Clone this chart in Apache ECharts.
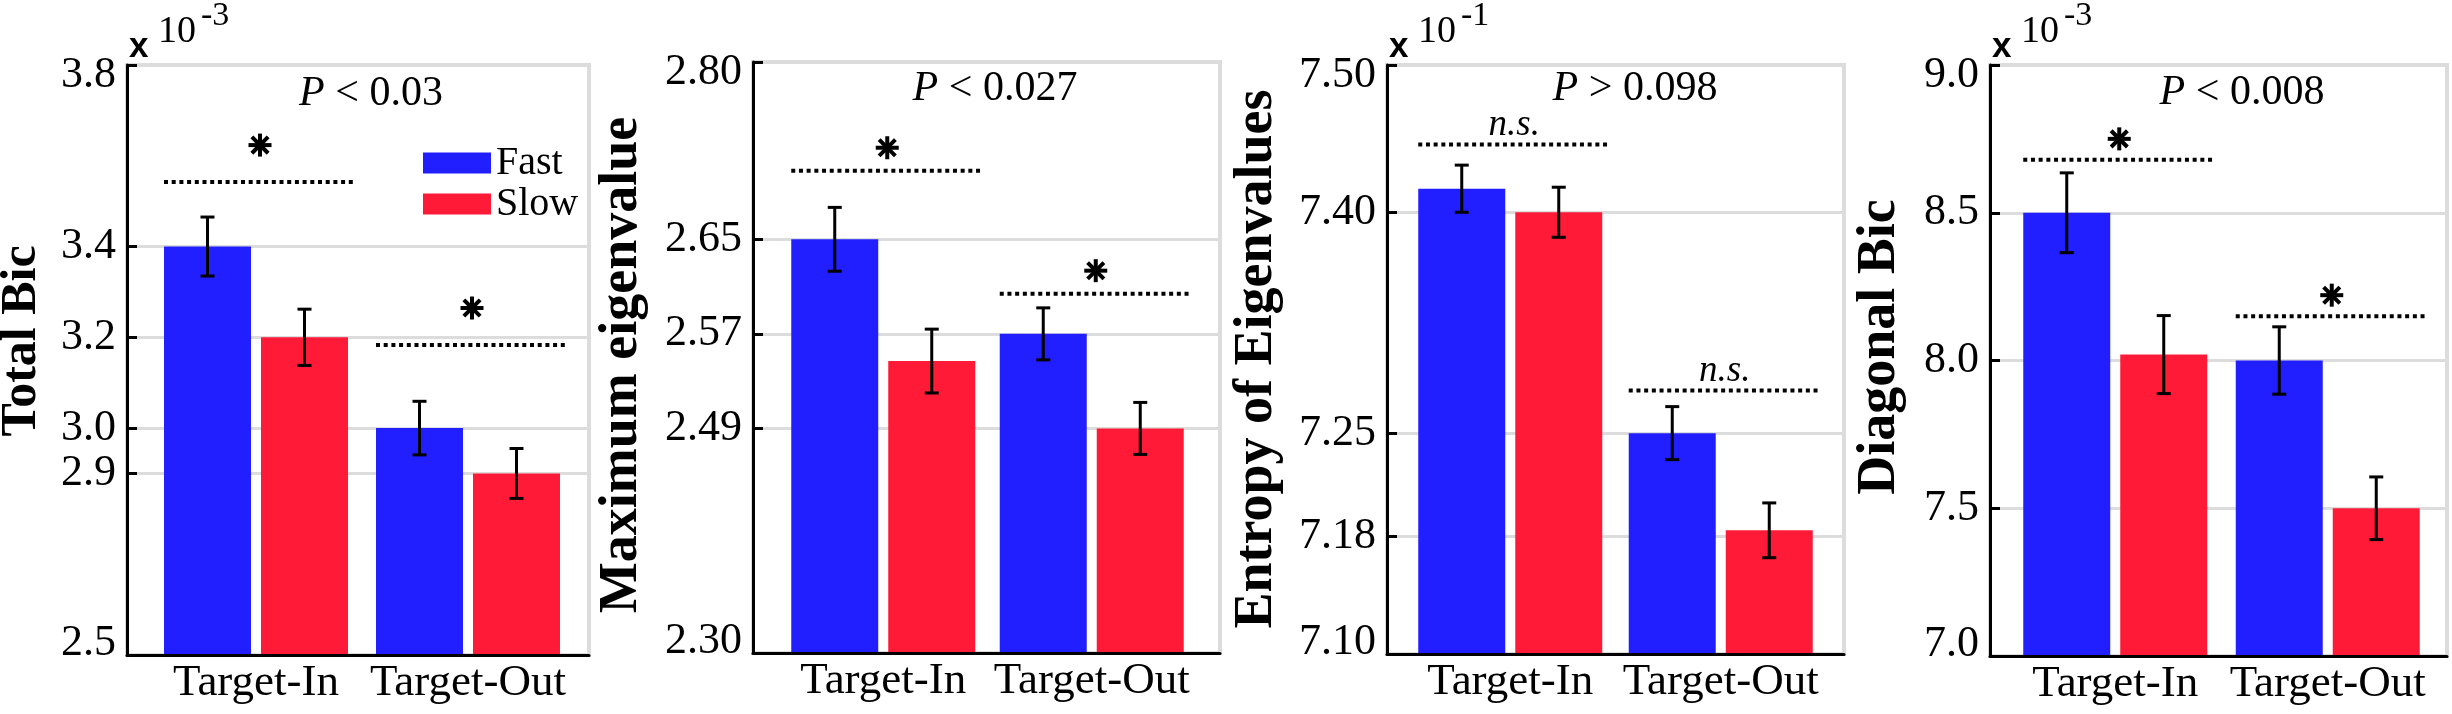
<!DOCTYPE html>
<html>
<head>
<meta charset="utf-8">
<script src="https://cdn.jsdelivr.net/npm/echarts@6/dist/echarts.min.js"></script>
<style>
  html, body { margin: 0; padding: 0; background: #fff; }
  #chart { width: 2452px; height: 714px; }
</style>
</head>
<body>
<div id="chart"></div>
<script>
const categories = ['Target-In', 'Target-Out'];
const seriesNames = ['Fast', 'Slow'];

// Total Bic (x 10^-3)
const totalBicFast = [3.4, 3.0];
const totalBicSlow = [3.2, 2.9];
const totalBicFastErr = [0.065, 0.059];
const totalBicSlowErr = [0.062, 0.055];
const totalBicTicks = [2.5, 2.9, 3.0, 3.2, 3.4, 3.8];
const totalBicSig = [3.542, 3.183];

// Maximum eigenvalue
const maxEigFast = [2.65, 2.57];
const maxEigSlow = [2.547, 2.49];
const maxEigFastErr = [0.027, 0.022];
const maxEigSlowErr = [0.027, 0.022];
const maxEigTicks = [2.30, 2.49, 2.57, 2.65, 2.80];
const maxEigSig = [2.708, 2.604];

// Entropy of Eigenvalues (x 10^-1)
const entropyFast = [7.416, 7.25];
const entropySlow = [7.40, 7.184];
const entropyFastErr = [0.016, 0.018];
const entropySlowErr = [0.017, 0.0186];
const entropyTicks = [7.10, 7.18, 7.25, 7.40, 7.50];
const entropySig = [7.446, 7.279];

// Diagonal Bic (x 10^-3)
const diagBicFast = [8.5, 8.0];
const diagBicSlow = [8.02, 7.5];
const diagBicFastErr = [0.135, 0.114];
const diagBicSlowErr = [0.132, 0.106];
const diagBicTicks = [7.0, 7.5, 8.0, 8.5, 9.0];
const diagBicSig = [8.679, 8.15];

const pLabels = ['< 0.03', '< 0.027', '> 0.098', '< 0.008'];
const sigMarks = ['*', '*', 'n.s.', '*'];
const exponents = ['-3', '', '-1', '-3'];

const SERIF = 'Liberation Serif';
const BLUE = '#211eff';
const RED = '#ff1a37';
const GRID_GRAY = '#dcdcdc';
const BAR_W = 87;
const BAR_STEP = 97; // bar width + gap

// layout of each panel (pixels)
const panels = [
  { name: 'Total Bic', fast: totalBicFast, slow: totalBicSlow, fastErr: totalBicFastErr, slowErr: totalBicSlowErr,
    ticks: totalBicTicks, digits: 1, sig: totalBicSig,
    frame: { left: 127, top: 65, width: 462, height: 590 }, inner: { left: 150, width: 424 },
    nameX: 22, nameY: 341, nameSize: 50, titleX: 371, titleY: 94, lift: 37 },
  { name: 'Maximum eigenvalue', fast: maxEigFast, slow: maxEigSlow, fastErr: maxEigFastErr, slowErr: maxEigSlowErr,
    ticks: maxEigTicks, digits: 2, sig: maxEigSig,
    frame: { left: 753, top: 62, width: 467, height: 591 }, inner: { left: 779, width: 417 },
    nameX: 622, nameY: 365, nameSize: 54, titleX: 995, titleY: 89, lift: 23 },
  { name: 'Entropy of Eigenvalues', fast: entropyFast, slow: entropySlow, fastErr: entropyFastErr, slowErr: entropySlowErr,
    ticks: entropyTicks, digits: 2, sig: entropySig,
    frame: { left: 1387, top: 65, width: 457, height: 589 }, inner: { left: 1405, width: 421 },
    nameX: 1257, nameY: 359, nameSize: 54, titleX: 1635, titleY: 89, lift: 19 },
  { name: 'Diagonal Bic', fast: diagBicFast, slow: diagBicSlow, fastErr: diagBicFastErr, slowErr: diagBicSlowErr,
    ticks: diagBicTicks, digits: 1, sig: diagBicSig,
    frame: { left: 1990, top: 65, width: 457, height: 591 }, inner: { left: 2009, width: 425 },
    nameX: 1880, nameY: 347, nameSize: 54, titleX: 2242, titleY: 93, lift: 21 }
];

function errorItem(offset) {
  return function (params, api) {
    const x = api.coord([api.value(0), api.value(1)])[0] + offset;
    const hi = api.coord([api.value(0), api.value(1) + api.value(2)])[1];
    const lo = api.coord([api.value(0), api.value(1) - api.value(2)])[1];
    const st = { stroke: '#000', lineWidth: 3 };
    return {
      type: 'group',
      children: [
        { type: 'line', shape: { x1: x, y1: hi, x2: x, y2: lo }, style: st },
        { type: 'line', shape: { x1: x - 7, y1: hi, x2: x + 7, y2: hi }, style: st },
        { type: 'line', shape: { x1: x - 7, y1: lo, x2: x + 7, y2: lo }, style: st }
      ]
    };
  };
}

function sigItem(mark, lift) {
  return function (params, api) {
    const c = api.coord([api.value(0), api.value(1)]);
    const cx = c[0] + 4, y = c[1];
    const children = [{
      type: 'line',
      shape: { x1: cx - 96, y1: y, x2: cx + 96, y2: y },
      style: { stroke: '#000', lineWidth: 4, lineDash: [4, 3.7] }
    }];
    const sy = y - lift;
    if (mark === '*') {
      const r = 11.5;
      for (let k = 0; k < 4; k++) {
        const a = k * Math.PI / 4;
        children.push({
          type: 'line',
          shape: { x1: cx - r * Math.cos(a), y1: sy - r * Math.sin(a), x2: cx + r * Math.cos(a), y2: sy + r * Math.sin(a) },
          style: { stroke: '#000', lineWidth: 4 }
        });
      }
    } else {
      children.push({
        type: 'text', x: cx, y: sy,
        style: { text: mark, fontFamily: SERIF, fontSize: 37, fontStyle: 'italic', fill: '#000', align: 'center', verticalAlign: 'middle' }
      });
    }
    return { type: 'group', children };
  };
}

const grid = [], xAxis = [], yAxis = [], series = [], graphic = [];

panels.forEach((p, i) => {
  const f = p.frame;
  const lo = p.ticks[0], hi = p.ticks[p.ticks.length - 1];
  const fi = 2 * i, di = 2 * i + 1;

  grid.push({ left: f.left, top: f.top, width: f.width, height: f.height, show: true, borderColor: GRID_GRAY, borderWidth: 4 });
  grid.push({ left: p.inner.left, top: f.top, width: p.inner.width, height: f.height });

  xAxis.push({
    gridIndex: fi, type: 'value', min: 0, max: 1, z: 5,
    axisLine: { show: true, lineStyle: { color: '#000', width: 3 } },
    axisTick: { show: false }, axisLabel: { show: false }, splitLine: { show: false }
  });
  xAxis.push({
    gridIndex: di, type: 'category', data: categories,
    axisLine: { show: false }, axisTick: { show: false },
    axisLabel: { interval: 0, margin: 6, fontFamily: SERIF, fontSize: 45, color: '#000' }
  });

  yAxis.push({
    gridIndex: fi, type: 'value', min: lo, max: hi,
    axisLine: { show: true, lineStyle: { color: '#000', width: 3 } },
    axisTick: { show: true, inside: true, length: 10, lineStyle: { color: '#000', width: 3 }, customValues: p.ticks },
    axisLabel: {
      customValues: p.ticks, margin: 11, fontFamily: SERIF, fontSize: 44, color: '#000',
      formatter: v => {
        const s = Number(v).toFixed(p.digits);
        if (Math.abs(v - hi) < 1e-9) return '{top|' + s + '}';
        if (Math.abs(v - lo) < 1e-9) return '{bot|' + s + '}';
        return s;
      },
      rich: {
        top: { fontFamily: SERIF, fontSize: 44, color: '#000', padding: [20, 0, 0, 0] },
        bot: { fontFamily: SERIF, fontSize: 44, color: '#000', padding: [0, 0, 24, 0] }
      }
    },
    splitLine: { show: true, lineStyle: { color: GRID_GRAY, width: 3 } }
  });
  yAxis.push({ gridIndex: di, type: 'value', min: lo, max: hi, show: false });

  series.push({
    type: 'bar', name: 'Fast', xAxisIndex: di, yAxisIndex: di, data: p.fast,
    barWidth: BAR_W, barGap: '11.5%', itemStyle: { color: BLUE }
  });
  series.push({
    type: 'bar', name: 'Slow', xAxisIndex: di, yAxisIndex: di, data: p.slow,
    barWidth: BAR_W, barGap: '11.5%', itemStyle: { color: RED }
  });
  series.push({
    type: 'custom', xAxisIndex: di, yAxisIndex: di, z: 4,
    data: p.fast.map((v, k) => [k, v, p.fastErr[k]]),
    encode: { x: 0, y: 1 }, renderItem: errorItem(-BAR_STEP / 2)
  });
  series.push({
    type: 'custom', xAxisIndex: di, yAxisIndex: di, z: 4,
    data: p.slow.map((v, k) => [k, v, p.slowErr[k]]),
    encode: { x: 0, y: 1 }, renderItem: errorItem(BAR_STEP / 2)
  });
  series.push({
    type: 'custom', xAxisIndex: di, yAxisIndex: di, z: 4,
    data: p.sig.map((v, k) => [k, v]),
    encode: { x: 0, y: 1 }, renderItem: sigItem(sigMarks[i], p.lift)
  });

  // y axis name
  graphic.push({
    type: 'text', x: p.nameX, y: p.nameY, rotation: Math.PI / 2,
    style: { text: p.name, fontFamily: SERIF, fontWeight: 'bold', fontSize: p.nameSize, fill: '#000', align: 'center', verticalAlign: 'middle' }
  });
  // P value
  graphic.push({
    type: 'text', x: p.titleX, y: p.titleY,
    style: {
      text: '{p|P} ' + pLabels[i], fontFamily: SERIF, fontSize: 42, fill: '#000', align: 'center', verticalAlign: 'middle',
      rich: { p: { fontFamily: SERIF, fontSize: 42, fontStyle: 'italic', fill: '#000' } }
    }
  });
  // scale factor
  if (exponents[i]) {
    graphic.push({ type: 'text', x: f.left + 2, y: 47, style: { text: 'x', fontFamily: 'Liberation Sans', fontWeight: 'bold', fontSize: 35, fill: '#000', align: 'left', verticalAlign: 'middle' } });
    graphic.push({ type: 'text', x: f.left + 31, y: 32, style: { text: '10', fontFamily: SERIF, fontSize: 38, fill: '#000', align: 'left', verticalAlign: 'middle' } });
    graphic.push({ type: 'text', x: f.left + 74, y: 16, style: { text: exponents[i], fontFamily: SERIF, fontSize: 34, fill: '#000', align: 'left', verticalAlign: 'middle' } });
  }
});

const option = {
  animation: false,
  backgroundColor: '#fff',
  legend: {
    data: seriesNames, orient: 'vertical', left: 423, top: 143, padding: 0,
    itemWidth: 68, itemHeight: 21, itemGap: 1, icon: 'rect', selectedMode: false,
    textStyle: { fontFamily: SERIF, fontSize: 40, color: '#000', lineHeight: 40 }
  },
  grid, xAxis, yAxis, series, graphic
};

const myChart = echarts.init(document.getElementById('chart'));
myChart.setOption(option);
</script>
</body>
</html>
